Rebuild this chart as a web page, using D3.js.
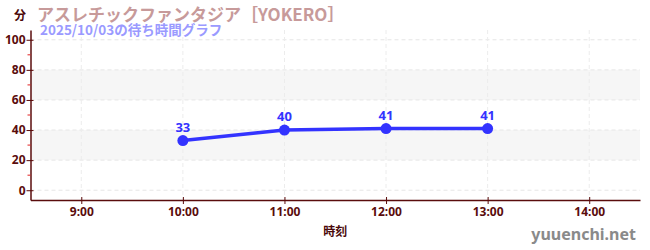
<!DOCTYPE html>
<html>
<head>
<meta charset="utf-8">
<script src="https://cdn.jsdelivr.net/npm/d3@7"></script>
<style>
  body { margin: 0; background: #fff; }
  svg { display: block; font-family: "Noto Sans CJK JP", "Noto Sans", sans-serif; }
</style>
</head>
<body>
<div id="chart"></div>
<script>
// wait times for the day
const times = ["10:00", "11:00", "12:00", "13:00"];
const waits = [33, 40, 41, 41];
const xTickLabels = ["9:00", "10:00", "11:00", "12:00", "13:00", "14:00"];
const yTicks = [0, 20, 40, 60, 80, 100];
const yMinorTicks = [10, 30, 50, 70, 90];
const bands = [[20, 40], [60, 80]];

const svgWidth = 650;
const svgHeight = 250;
const margin = { top: 30, right: 10, bottom: 50, left: 30.5 };
const chartWidth = svgWidth - margin.left - margin.right;
const chartHeight = svgHeight - margin.top - margin.bottom;

const axisColor = "#5a0c0c";

const toHour = s => { const [h, m] = s.split(":"); return +h + m / 60; };

const x = d3.scaleLinear().domain([8.5, 14.5]).range([0, chartWidth]);
const y = d3.scaleLinear().domain([-6.5, 106.5]).range([chartHeight, 0]);

const svg = d3.select("#chart").append("svg")
  .attr("width", svgWidth)
  .attr("height", svgHeight);

const g = svg.append("g")
  .attr("transform", `translate(${margin.left}, ${margin.top})`);

// background bands
g.selectAll(".band").data(bands).enter().append("rect")
  .attr("x", 0)
  .attr("width", chartWidth)
  .attr("y", d => y(d[1]))
  .attr("height", d => y(d[0]) - y(d[1]))
  .attr("fill", "#f6f6f6");

// grid
g.selectAll(".hgrid").data(yTicks).enter().append("line")
  .attr("x1", 0).attr("x2", chartWidth)
  .attr("y1", d => y(d)).attr("y2", d => y(d))
  .attr("stroke", "#e6e6e6").attr("stroke-dasharray", "4,3");

g.selectAll(".vgrid").data(xTickLabels).enter().append("line")
  .attr("x1", d => x(toHour(d))).attr("x2", d => x(toHour(d)))
  .attr("y1", 0).attr("y2", chartHeight)
  .attr("stroke", "#ececec").attr("stroke-dasharray", "4,3");

// axes
const yAxis = g.append("g")
  .call(d3.axisLeft(y).tickValues(yTicks).tickSize(4).tickSizeOuter(0));
const xAxis = g.append("g")
  .attr("transform", `translate(0, ${chartHeight})`)
  .call(d3.axisBottom(x).tickValues(xTickLabels.map(toHour))
    .tickFormat((d, i) => xTickLabels[i]).tickSize(4).tickSizeOuter(0));

[xAxis, yAxis].forEach(a => {
  a.select(".domain").attr("stroke", axisColor).attr("stroke-width", 1.5);
  a.selectAll(".tick line").attr("stroke", axisColor);
  a.selectAll(".tick text")
    .attr("fill", axisColor)
    .style("font-size", "12px")
    .style("font-weight", "bold")
    .style("font-family", "'Liberation Sans Narrow', 'Noto Sans', sans-serif");
});
yAxis.selectAll(".tick line").attr("x1", -4).attr("x2", 3);
yAxis.selectAll(".tick text").attr("x", -5);
xAxis.selectAll(".tick line").attr("y1", -3).attr("y2", 4);
xAxis.selectAll(".tick text").attr("y", 7);

// minor ticks
g.selectAll(".minor").data(yMinorTicks).enter().append("line")
  .attr("x1", -3).attr("x2", 0)
  .attr("y1", d => y(d)).attr("y2", d => y(d))
  .attr("stroke", "#e02020");

// line and points
const data = times.map((t, i) => ({ h: toHour(t), v: waits[i] }));
const line = d3.line().x(d => x(d.h)).y(d => y(d.v));

g.append("path")
  .datum(data)
  .attr("d", line)
  .attr("fill", "none")
  .attr("stroke", "#3333ff")
  .attr("stroke-width", 3.5);

g.selectAll(".pt").data(data).enter().append("circle")
  .attr("cx", d => x(d.h))
  .attr("cy", d => y(d.v))
  .attr("r", 5.5)
  .attr("fill", "#3333ff");

g.selectAll(".lbl").data(data).enter().append("text")
  .attr("x", d => x(d.h))
  .attr("y", d => y(d.v) - 9)
  .attr("text-anchor", "middle")
  .attr("fill", "#3333ff")
  .style("font-size", "13px")
  .style("font-weight", "bold")
  .style("font-family", "'Noto Sans', sans-serif")
  .text(d => d.v);

// titles
svg.append("text")
  .attr("x", 14).attr("y", 20)
  .attr("fill", "#4a0808")
  .style("font-size", "12px").style("font-weight", "bold")
  .text("分");

svg.append("text")
  .attr("x", 37).attr("y", 21)
  .attr("fill", "#c79a9a")
  .style("font-size", "17px").style("font-weight", "bold")
  .text("アスレチックファンタジア［YOKERO］");

svg.append("text")
  .attr("x", 40).attr("y", 35)
  .attr("fill", "#9a9aff")
  .style("font-size", "13.5px").style("font-weight", "bold")
  .text("2025/10/03の待ち時間グラフ");

svg.append("text")
  .attr("x", margin.left + chartWidth / 2).attr("y", 236)
  .attr("text-anchor", "middle")
  .attr("fill", "#4a0808")
  .style("font-size", "12px").style("font-weight", "bold")
  .text("時刻");

svg.append("text")
  .attr("x", 636).attr("y", 240)
  .attr("text-anchor", "end")
  .attr("fill", "#8a8a8a")
  .style("font-size", "16px").style("font-weight", "bold")
  .style("font-family", "'Noto Sans', sans-serif")
  .text("yuuenchi.net");
</script>
</body>
</html>
